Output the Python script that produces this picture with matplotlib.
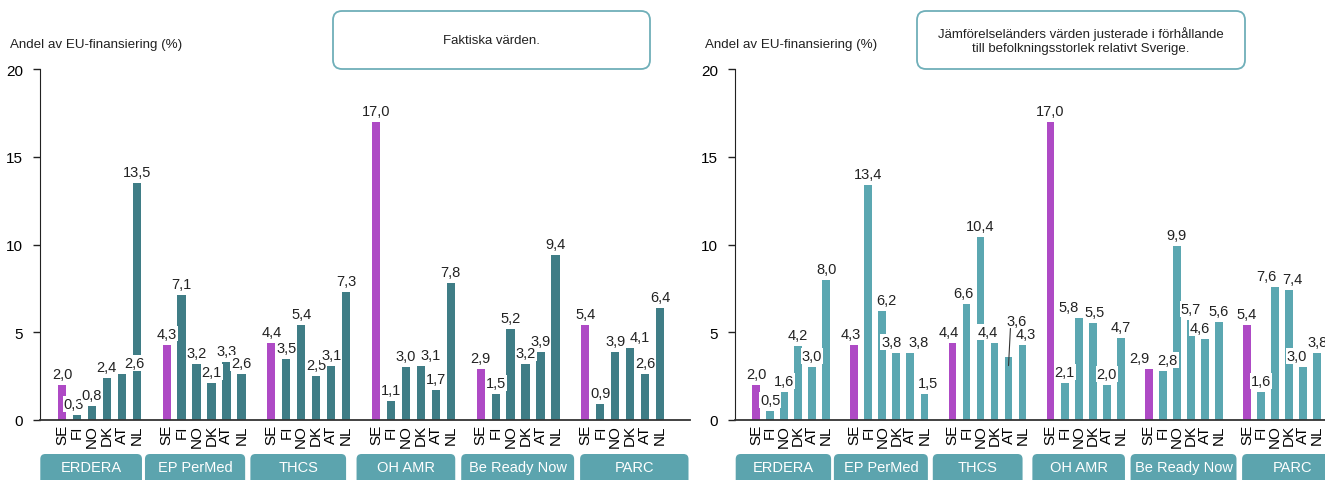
import matplotlib
matplotlib.use("Agg")
import matplotlib.pyplot as plt
from matplotlib.patches import FancyBboxPatch
from matplotlib.transforms import IdentityTransform

plt.rcParams['font.family'] = ['Liberation Sans', 'DejaVu Sans']

# programmes and countries
programs = ["ERDERA", "EP PerMed", "THCS", "OH AMR", "Be Ready Now", "PARC"]
countries = ["SE", "FI", "NO", "DK", "AT", "NL"]

# share of EU funding (%), actual values, one row per programme
actual = [
    [2.0, 0.3, 0.8, 2.4, 2.6, 13.5],
    [4.3, 7.1, 3.2, 2.1, 3.3, 2.6],
    [4.4, 3.5, 5.4, 2.5, 3.1, 7.3],
    [17.0, 1.1, 3.0, 3.1, 1.7, 7.8],
    [2.9, 1.5, 5.2, 3.2, 3.9, 9.4],
    [5.4, 0.9, 3.9, 4.1, 2.6, 6.4],
]

# same, comparison countries scaled to Swedish population
adjusted = [
    [2.0, 0.5, 1.6, 4.2, 3.0, 8.0],
    [4.3, 13.4, 6.2, 3.8, 3.8, 1.5],
    [4.4, 6.6, 10.4, 4.4, 3.6, 4.3],
    [17.0, 2.1, 5.8, 5.5, 2.0, 4.7],
    [2.9, 2.8, 9.9, 5.7, 4.6, 5.6],
    [5.4, 1.6, 7.6, 7.4, 3.0, 3.8],
]

notes = ["Faktiska värden.",
         "Jämförelseländers värden justerade i förhållande\ntill befolkningsstorlek relativt Sverige."]
ylabel = "Andel av EU-finansiering (%)"

SE_COL = "#AE4AC5"
TEAL_BOX = "#5CA4AE"
EDGE = "#6FAFB9"

W, H = 1325, 481
fig = plt.figure(figsize=(W / 100, H / 100), dpi=100)

# label shifts in pixels (dx, dy) so crowded labels don't sit on top of each other
nudge_left = {(0, 1): (-3, 0), (0, 4): (13, 0), (3, 3): (10, 0), (5, 3): (10, 0)}
nudge_right = {(1, 0): (-3, 0), (1, 2): (4, 0), (1, 3): (-5, 0), (1, 4): (8, 0), (1, 5): (4, 0),
               (2, 0): (-4, 0), (2, 1): (-3, 0), (2, 3): (-7, 0), (2, 5): (3, 0),
               (3, 2): (-10, 0), (3, 3): (2, 0),
               (4, 0): (-9, 0), (4, 1): (5, 0), (4, 4): (-5, 0),
               (5, 2): (-9, 0), (5, 3): (3, 0), (5, 4): (-6, 0)}
# labels lifted off their bar with a leader line
leader_right = {(2, 4): (8, 38)}

# programme box extent, in bar slots relative to the group's first bar
box_span = [(-1.45, 5.35), (-1.45, 5.25), (-1.4, 5.0), (-1.3, 5.3), (-1.3, 6.25), (-0.35, 6.9)]

panels = [
    dict(data=actual, rect=[40, 421, 690, 70], xlim=(-1.47, 42.0), col="#3F7D86",
         note=notes[0], note_box=(333, 12, 650, 70), ylab_x=10,
         nudge=nudge_left, leader={}),
    dict(data=adjusted, rect=[735, 421, 1325, 70], xlim=(-1.5, 40.56), col="#5BA7B1",
         note=notes[1], note_box=(917, 12, 1245, 70), ylab_x=705,
         nudge=nudge_right, leader=leader_right),
]

step = len(countries) + 1
PT = 0.72  # points per pixel at 100 dpi
lbl_box = dict(boxstyle="square,pad=0.06", fc="white", ec="none")

for p in panels:
    x0, yb, x1, yt = p["rect"]
    ax = fig.add_axes([x0 / W, 1 - yb / H, (x1 - x0) / W, (yb - yt) / H])
    xs, labels = [], []
    for g, vals in enumerate(p["data"]):
        for i, v in enumerate(vals):
            x = g * step + i
            xs.append(x)
            labels.append(countries[i])
            ax.bar(x, v, width=0.55, color=SE_COL if i == 0 else p["col"], zorder=2)
            txt = f"{v:.1f}".replace(".", ",")
            if (g, i) in p["leader"]:
                dx, dy = p["leader"][(g, i)]
                ax.annotate(txt, (x, v - 0.5), xytext=(dx * PT, dy * PT), textcoords="offset points",
                            ha="center", va="bottom", fontsize=10.5, color="#222", zorder=5,
                            bbox=lbl_box,
                            arrowprops=dict(arrowstyle="-", color="#333", lw=0.8,
                                            shrinkA=0, shrinkB=0, relpos=(0.2, 0)))
            else:
                dx, dy = p["nudge"].get((g, i), (0, 0))
                ax.annotate(txt, (x, v), xytext=(dx * PT, (4 + dy) * PT), textcoords="offset points",
                            ha="center", va="bottom", fontsize=10.5, color="#222", zorder=4,
                            bbox=lbl_box)
    ax.set_xlim(*p["xlim"])
    ax.set_ylim(0, 20)
    ax.set_yticks([0, 5, 10, 15, 20])
    ax.tick_params(axis="y", length=5, width=1, labelsize=11, pad=7, color="#222")
    ax.set_xticks(xs)
    ax.set_xticklabels(labels, rotation=90, fontsize=11)
    ax.tick_params(axis="x", length=0, pad=3)
    for s in ("top", "right"):
        ax.spines[s].set_visible(False)
    ax.spines["left"].set_color("#222")
    ax.spines["bottom"].set_color("#333")
    ax.spines["bottom"].set_linewidth(1.3)

    # y axis title
    fig.text(p["ylab_x"], H - 45, ylabel, transform=IdentityTransform(),
             fontsize=9.6, va="center", ha="left", color="#222")

    # note box at the top
    bx0, by0, bx1, by1 = p["note_box"]
    fig.add_artist(FancyBboxPatch((bx0, H - by1), bx1 - bx0, by1 - by0,
                                  boxstyle="round,pad=0,rounding_size=9",
                                  fc="white", ec=EDGE, lw=1.3, transform=IdentityTransform()))
    fig.text((bx0 + bx1) / 2, H - (by0 + by1) / 2, p["note"], transform=IdentityTransform(),
             ha="center", va="center", fontsize=9.5, color="#222", linespacing=1.3)

    # programme boxes under the country labels
    for g, name in enumerate(programs):
        lo, hi = box_span[g]
        left = ax.transData.transform((g * step + lo, 0))[0]
        right = ax.transData.transform((g * step + hi, 0))[0]
        fig.add_artist(FancyBboxPatch((left, -12), right - left, 38,
                                      boxstyle="round,pad=0,rounding_size=5",
                                      fc=TEAL_BOX, ec="none", transform=IdentityTransform()))
        fig.text((left + right) / 2, 13, name, transform=IdentityTransform(),
                 ha="center", va="center", fontsize=10.5, color="white")

fig.savefig("out.png", dpi=100)
